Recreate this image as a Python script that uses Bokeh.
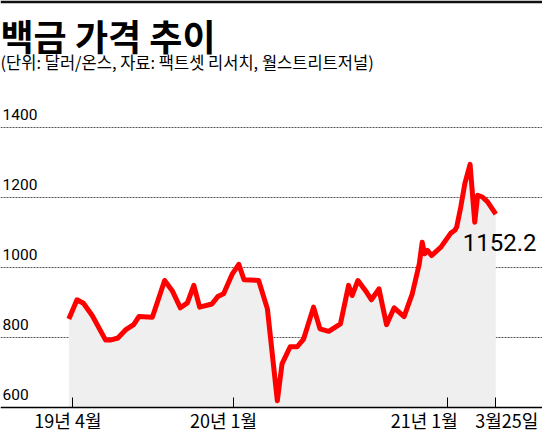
import pandas as pd
from bokeh.plotting import figure
from bokeh.models import Range1d, FixedTicker, Label, Grid, BoxAnnotation
from bokeh.core.properties import value
from bokeh.embed import file_html
from bokeh.resources import INLINE

# ---- data ----
dates = [
    "2019-03-25", "2019-04-08", "2019-04-19", "2019-05-04", "2019-05-27",
    "2019-06-04", "2019-06-17", "2019-06-30", "2019-07-14", "2019-07-23",
    "2019-08-15", "2019-09-05", "2019-09-18", "2019-10-02", "2019-10-14",
    "2019-10-25", "2019-11-04", "2019-11-25", "2019-12-05", "2019-12-15",
    "2019-12-30", "2020-01-10", "2020-01-19", "2020-02-13", "2020-02-28",
    "2020-03-16", "2020-03-24", "2020-04-07", "2020-04-19", "2020-04-30",
    "2020-05-17", "2020-05-28", "2020-06-12", "2020-07-02", "2020-07-16",
    "2020-07-22", "2020-08-01", "2020-08-14", "2020-08-24", "2020-09-06",
    "2020-09-19", "2020-10-02", "2020-10-19", "2020-11-02", "2020-11-14",
    "2020-11-19", "2020-11-23", "2020-11-28", "2020-12-05", "2020-12-21",
    "2021-01-07", "2021-01-14", "2021-01-17", "2021-01-24", "2021-01-31",
    "2021-02-09", "2021-02-17", "2021-02-22", "2021-03-02", "2021-03-11",
    "2021-03-25",
]
prices = [
    853, 908, 898, 863, 793,
    793, 799, 822, 837, 860,
    858, 963, 934, 885, 899,
    949, 887, 896, 917, 925,
    982, 1009, 965, 963, 882,
    620, 725, 774, 774, 796,
    887, 825, 818, 839, 949,
    920, 963, 934, 908, 939,
    837, 885, 860, 925, 1010,
    1072, 1039, 1049, 1034, 1058,
    1098, 1106, 1115, 1172, 1239,
    1294, 1129, 1206, 1201, 1187,
    1152.2,
]
y_ticks = [600, 800, 1000, 1200, 1400]
y_tick_labels = ["600", "800", "1000", "1200", "1400"]
x_tick_dates = ["2019-04-01", "2020-01-01", "2021-01-01", "2021-03-25"]
x_tick_labels = ["19년 4월", "20년 1월", "21년 1월", "3월25일"]
title_text = "백금 가격 추이"
subtitle_text = "(단위: 달러/온스, 자료: 팩트셋 리서치, 월스트리트저널)"
last_label = "1152.2"

# ---- styles ----
x_label_shift = [-5, -10, -23, 11]
NUM_FONT = "Roboto"
KR_FONT = "Noto Sans CJK KR"

# ---- build ----
def ms(d):
    return float(pd.Timestamp(d).value // 10**6)

x = [ms(d) for d in dates]
x_start = ms("2018-11-28")
x_end = ms("2021-06-13")
y_start, y_end = 526.7, 1761.2

p = figure(
    width=542, height=433,
    x_axis_type="datetime",
    x_range=Range1d(x_start, x_end),
    y_range=Range1d(y_start, y_end),
    y_axis_location=None,
    output_backend="svg",
    toolbar_location=None,
    min_border=0,
)
p.outline_line_color = None
p.background_fill_color = "white"
p.border_fill_color = "white"
p.grid.visible = False

p.add_layout(BoxAnnotation(bottom=y_end - 8, top=y_end, fill_color="#111111",
                           fill_alpha=1, line_color=None))

grid = Grid(dimension=1, ticker=FixedTicker(ticks=y_ticks[1:]),
            grid_line_color="#555555", grid_line_width=1, grid_line_dash="2 1")
p.add_layout(grid)

p.varea(x=x, y1=[y_ticks[0]] * len(x), y2=prices, fill_color="#efefef")
p.line(x=x, y=prices, line_color="#ff0000", line_width=5, line_join="round")

p.text(x=[x_start] * len(y_ticks), y=y_ticks, text=y_tick_labels,
       text_font=value(NUM_FONT), text_font_size="15.5px",
       text_color="black", text_baseline="alphabetic", text_align="left",
       x_offset=2, y_offset=-13)

p.text(x=[x[-1]], y=[prices[-1]], text=[last_label],
       text_font=value(NUM_FONT), text_font_size="24px",
       text_color="black", text_baseline="alphabetic", text_align="left",
       x_offset=-33, y_offset=28)

tick_ms = [ms(d) for d in x_tick_dates]
p.text(x=tick_ms, y=[y_ticks[0]] * len(tick_ms), text=x_tick_labels,
       x_offset=x_label_shift, y_offset=12,
       text_font=value(KR_FONT), text_font_size="18px", text_color="black",
       text_baseline="alphabetic", text_align="center")

ax = p.xaxis[0]
ax.fixed_location = y_ticks[0]
ax.ticker = FixedTicker(ticks=tick_ms)
ax.major_label_overrides = {t: "" for t in tick_ms}
ax.major_label_text_font_size = "1px"
ax.major_label_standoff = 0
ax.axis_line_color = "black"
ax.axis_line_width = 1.5
ax.major_tick_in = 10
ax.major_tick_out = 0
ax.minor_tick_in = 0
ax.minor_tick_out = 0
ax.major_tick_line_color = "black"
ax.major_tick_line_width = 1

p.add_layout(Label(x=0, y=399, x_units="screen", y_units="screen",
                   text=title_text, text_font=KR_FONT,
                   text_font_style="bold", text_font_size="36px",
                   text_color="black", text_baseline="alphabetic"))
p.add_layout(Label(x=0, y=371.5, x_units="screen", y_units="screen",
                   text=subtitle_text, text_font=KR_FONT,
                   text_font_size="16.5px",
                   text_color="black", text_baseline="alphabetic"))

open("out.html", "w").write(file_html(p, INLINE))
